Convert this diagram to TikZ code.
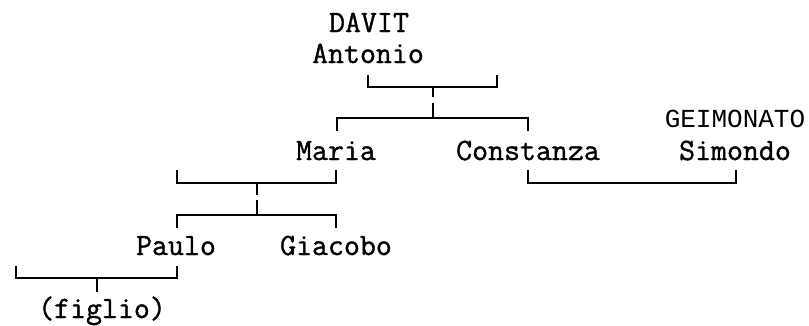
\documentclass[tikz,border=0pt]{standalone}
\usepackage{fontspec}
\newfontfamily\personfont{Latin Modern Mono}[FakeBold=1.2]
\newfontfamily\surnamefont{Liberation Mono}

\begin{document}
\begin{tikzpicture}[x=1pt, y=-1pt, line width=1.3pt,
  person/.style={anchor=base, inner sep=0pt, font=\fontsize{31}{31}\selectfont\personfont},
  surname/.style={anchor=base, inner sep=0pt, font=\fontsize{26}{26}\selectfont\surnamefont}]
\useasboundingbox (0,0) rectangle (809,325);
\node[person] (davit) at (369,32) {DAVIT};
\node[person] (antonio) at (368,63) {Antonio};
\node[person] (maria) at (336,160) {Maria};
\node[person] (constanza) at (528,160) {Constanza};
\node[surname] (geimonato) at (735,127) {GEIMONATO};
\node[person] (simondo) at (735,160) {Simondo};
\node[person] (paulo) at (176,255) {Paulo};
\node[person] (giacobo) at (336,255) {Giacobo};
\node[person] (figlio) at (102,318) {(figlio)};
\coordinate (antL) at (368,75);
\coordinate (antR) at (497,75);
\coordinate (antM) at (433,87);
\coordinate (kidsM) at (433,118);
\coordinate (mariaT) at (337,131);
\coordinate (constT) at (528,131);
\coordinate (mariaL) at (177,170);
\coordinate (mariaR) at (336,170);
\coordinate (mariaM) at (257,183);
\coordinate (pauloM) at (257,215);
\coordinate (pauloT) at (177,228);
\coordinate (giacT) at (336,228);
\coordinate (constL) at (528,170);
\coordinate (simR) at (736,170);
\coordinate (pauloL) at (16,266);
\coordinate (pauloR) at (177,266);
\coordinate (figM) at (97,278);
\draw (antL) -- ++(0,12) -| (antR);
\draw (antM) -- ++(0,10);
\draw (kidsM) -- ++(0,-15);
\draw (mariaT) -- ++(0,-13) -| (constT);
\draw (mariaL) -- ++(0,13) -| (mariaR);
\draw (mariaM) -- ++(0,12);
\draw (pauloM) -- ++(0,-15);
\draw (pauloT) -- ++(0,-13) -| (giacT);
\draw (constL) -- ++(0,13) -| (simR);
\draw (pauloL) -- ++(0,12) -| (pauloR);
\draw (figM) -- ++(0,14);
\end{tikzpicture}
\end{document}
